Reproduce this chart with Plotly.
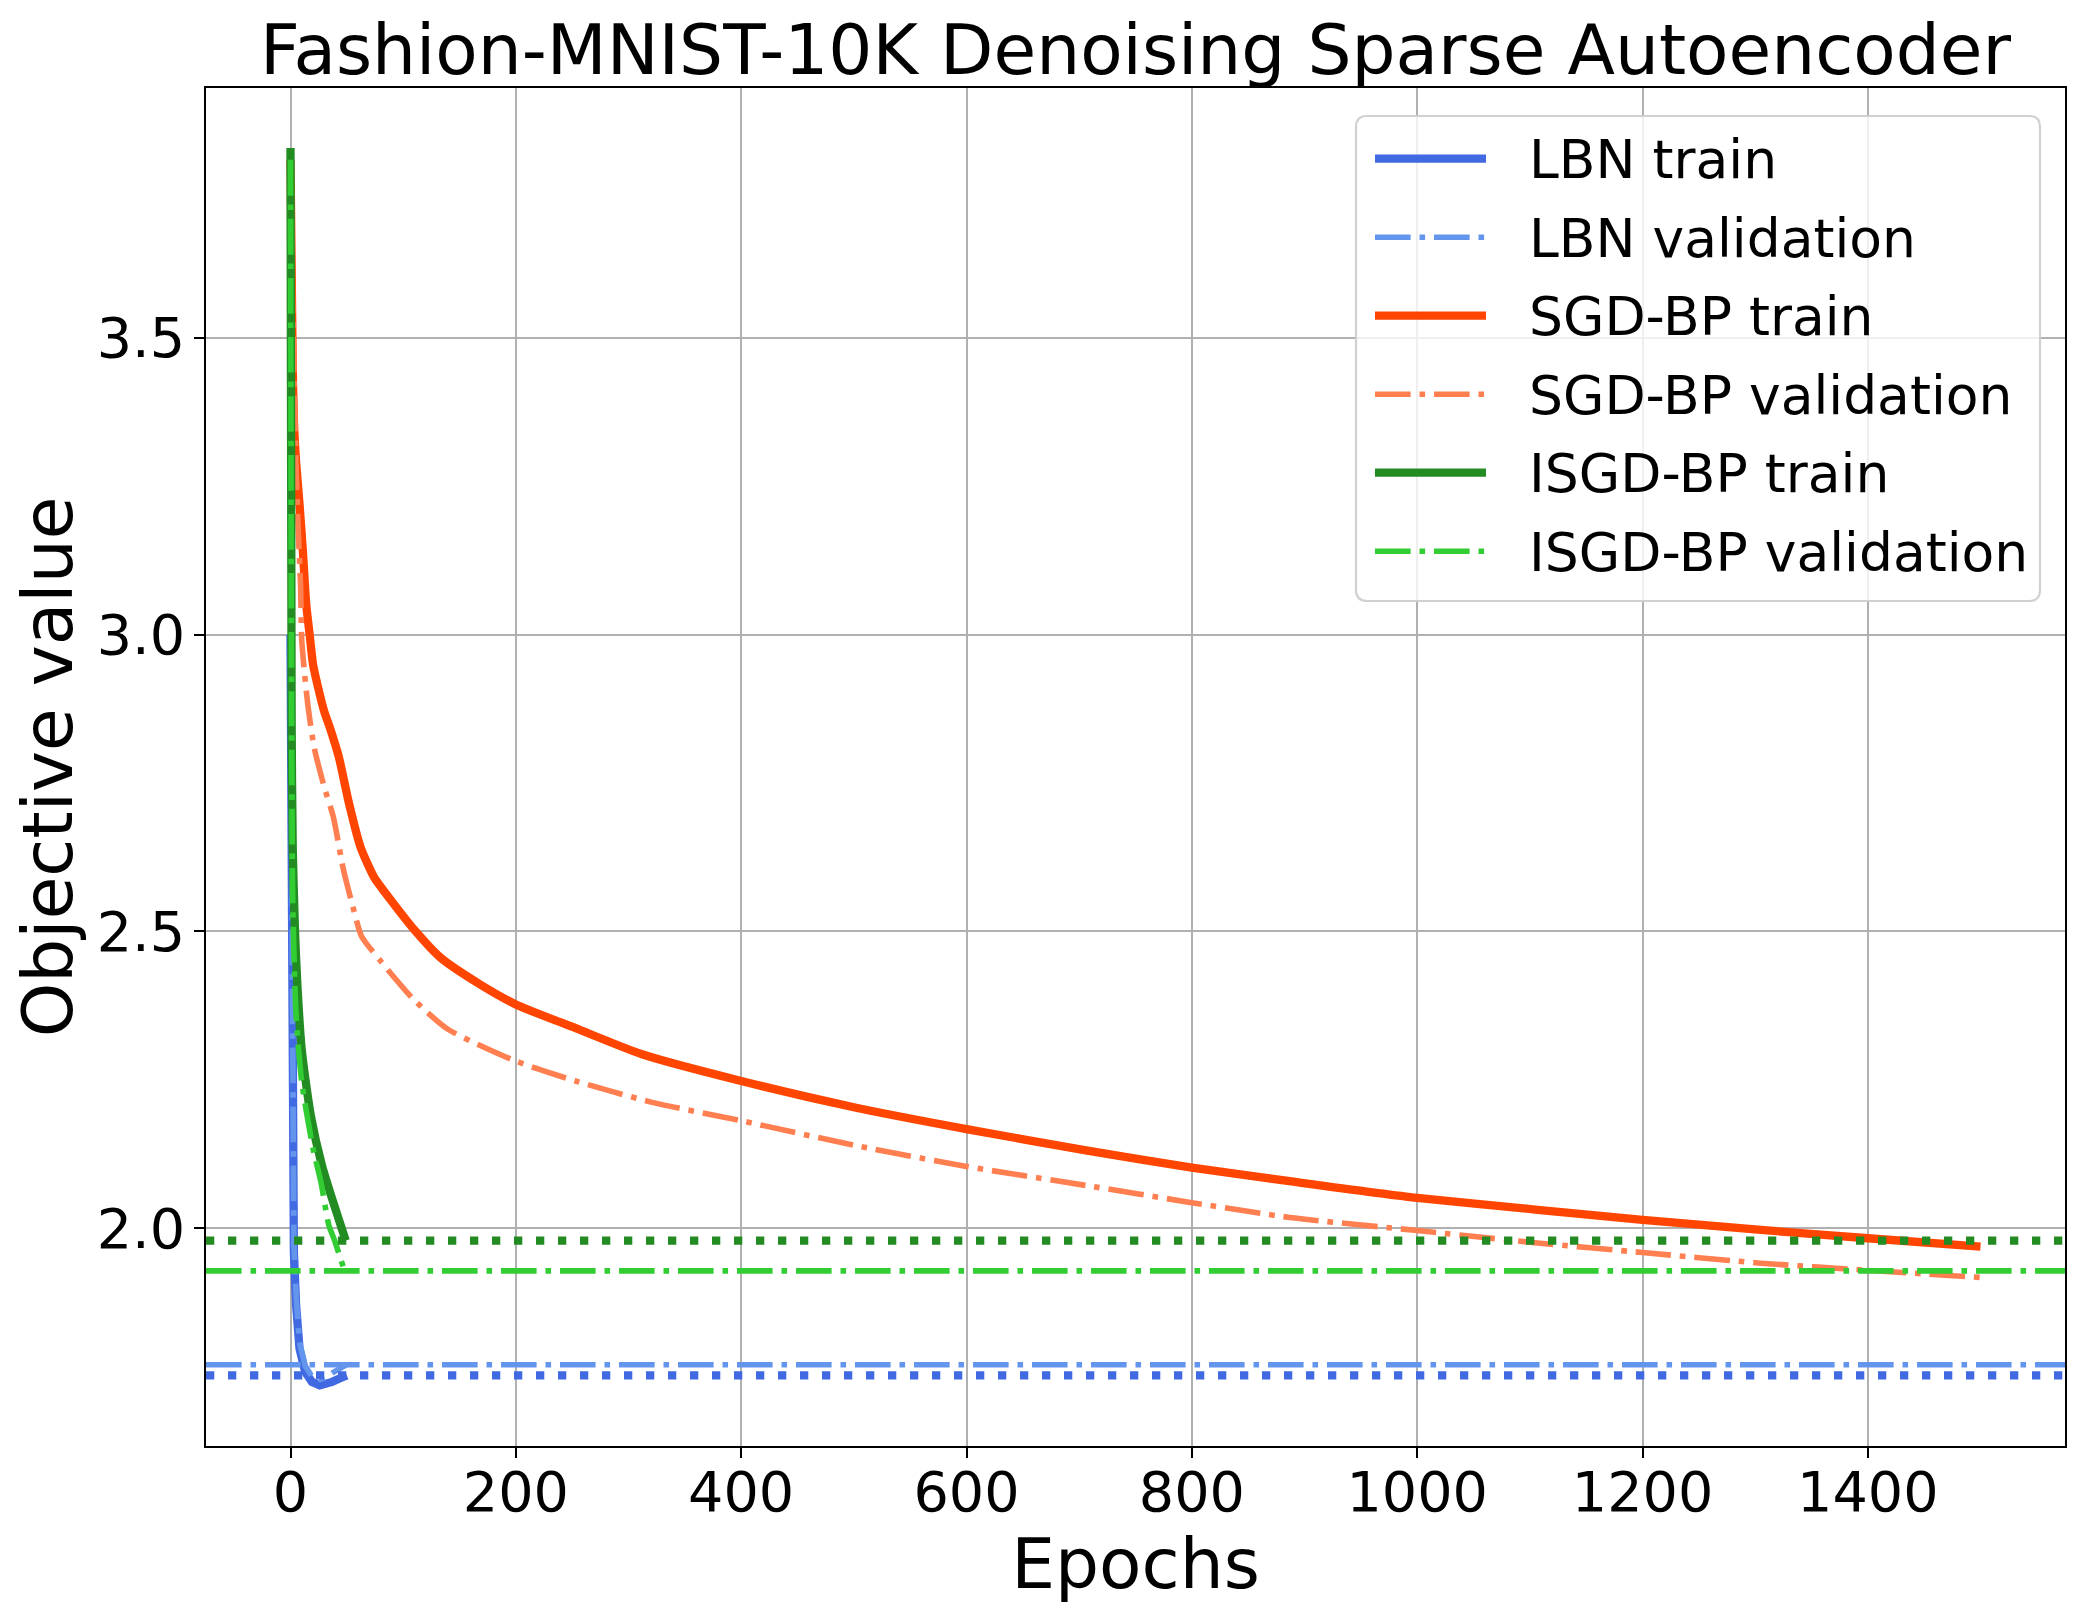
import plotly.graph_objects as go

# ---------------- data ----------------
TITLE = "Fashion-MNIST-10K Denoising Sparse Autoencoder"
X_LABEL = "Epochs"
Y_LABEL = "Objective value"

x_ticks = [0, 200, 400, 600, 800, 1000, 1200, 1400]
y_ticks = [2.0, 2.5, 3.0, 3.5]

series_names = ["LBN train", "LBN validation", "SGD-BP train",
                "SGD-BP validation", "ISGD-BP train", "ISGD-BP validation"]

lbn_train_epochs = [0, 1, 2, 3, 5, 8, 13, 19, 26, 32, 37, 44, 50]
lbn_train_values = [3.00, 2.64, 2.05, 1.96, 1.870, 1.797, 1.758, 1.741, 1.735,
                    1.737, 1.741, 1.747, 1.752]

lbn_val_epochs = [0, 1, 2, 3, 5, 8, 13, 19, 26, 32, 38, 44, 50]
lbn_val_values = [3.00, 2.66, 2.07, 1.975, 1.885, 1.808, 1.768, 1.750, 1.745,
                  1.749, 1.757, 1.764, 1.770]

sgd_train_epochs = [0, 1, 2, 3, 5, 8, 11, 14, 17, 20, 24, 30, 35, 43, 52, 62,
                    74, 91, 112, 133, 168, 200, 253, 312, 400, 502, 600, 706,
                    800, 895, 1000, 1107, 1200, 1305, 1400, 1500]
sgd_train_values = [3.80, 3.62, 3.45, 3.36, 3.29, 3.22, 3.14, 3.05, 3.00, 2.95,
                    2.915, 2.87, 2.843, 2.793, 2.715, 2.643, 2.592, 2.548, 2.498,
                    2.456, 2.411, 2.377, 2.337, 2.293, 2.248, 2.203, 2.167, 2.131,
                    2.102, 2.077, 2.051, 2.031, 2.014, 1.997, 1.983, 1.969]

sgd_val_epochs = [0, 2, 3, 5, 7, 9, 10, 15, 21, 30, 38, 47, 56, 63, 80, 109,
                  139, 198, 253, 321, 400, 502, 600, 706, 800, 887, 1000, 1107,
                  1200, 1305, 1400, 1500]
sgd_val_values = [3.80, 3.55, 3.45, 3.28, 3.17, 3.08, 2.99, 2.888, 2.81, 2.743,
                  2.693, 2.604, 2.537, 2.492, 2.45, 2.386, 2.336, 2.283, 2.248,
                  2.212, 2.181, 2.139, 2.104, 2.072, 2.043, 2.018, 1.996, 1.975,
                  1.959, 1.941, 1.929, 1.917]

isgd_train_epochs = [0, 1, 2, 4, 6, 10, 18, 28, 37, 49]
isgd_train_values = [3.82, 2.85, 2.64, 2.50, 2.413, 2.30, 2.19, 2.105, 2.049, 1.979]

isgd_val_epochs = [0, 1, 2, 5, 10, 20, 27, 34, 39, 48]
isgd_val_values = [3.80, 2.85, 2.55, 2.357, 2.246, 2.134, 2.078, 2.005, 1.980, 1.928]

# ---------------- style ----------------
OFF = 8                      # page offset of the plot div
W, H = 2085 - OFF, 1620 - OFF
ML, MR, MT, MB = 206 - OFF, 20, 88 - OFF, 174
FONT = "DejaVu Sans"
TICK_FS = 55.6
LEG_FS = 53.5
LABEL_FS = 69.4

C_ROYAL = "#4169E1"
C_CORN = "#6495ED"
C_ORED = "#FF4500"
C_CORAL = "#FF7F50"
C_FOREST = "#228B22"
C_LIME = "#32CD32"

TRAIN_W = 8.3
VAL_W = 5.6
DASHDOT = "35.6px,8.9px,5.6px,8.9px"
DOT_W = 8.3
DOTTED = "8.3px,13.7px"

series = [
    (lbn_train_epochs, lbn_train_values, C_ROYAL, TRAIN_W, "solid", "linear"),
    (lbn_val_epochs, lbn_val_values, C_CORN, VAL_W, DASHDOT, "linear"),
    (sgd_train_epochs, sgd_train_values, C_ORED, TRAIN_W, "solid", "spline"),
    (sgd_val_epochs, sgd_val_values, C_CORAL, VAL_W, DASHDOT, "spline"),
    (isgd_train_epochs, isgd_train_values, C_FOREST, TRAIN_W, "solid", "spline"),
    (isgd_val_epochs, isgd_val_values, C_LIME, VAL_W, DASHDOT, "spline"),
]

fig = go.Figure()
for (xs, ys, col, w, dash, shp), name in zip(series, series_names):
    fig.add_trace(go.Scatter(x=xs, y=ys, mode="lines", name=name,
                             line=dict(color=col, width=w, dash=dash,
                                       shape=shp, smoothing=0.6),
                             showlegend=False))

# final-value reference lines
ref_lines = [
    (lbn_train_values[-1], C_ROYAL, DOT_W, DOTTED),
    (lbn_val_values[-1], C_CORN, VAL_W, DASHDOT),
    (isgd_train_values[-1], C_FOREST, DOT_W, DOTTED),
    (isgd_val_values[-1], C_LIME, VAL_W, DASHDOT),
]
for yv, col, w, dash in ref_lines:
    fig.add_hline(y=yv, line=dict(color=col, width=w, dash=dash), layer="above")

# ---------------- manual legend (paper coords) ----------------
PW = W - ML - MR
PH = H - MT - MB


def px_x(px):
    return (px - OFF - ML) / PW


def px_y(py):
    return (H - MB - (py - OFF)) / PH


box_l, box_t, box_r, box_b = 1356, 116, 2040, 601
rad = 11
rx, ry = rad / PW, rad / PH
L, R, T, B = px_x(box_l), px_x(box_r), px_y(box_t), px_y(box_b)
path = (f"M {L + rx},{T} L {R - rx},{T} Q {R},{T} {R},{T - ry} "
        f"L {R},{B + ry} Q {R},{B} {R - rx},{B} L {L + rx},{B} "
        f"Q {L},{B} {L},{B + ry} L {L},{T - ry} Q {L},{T} {L + rx},{T} Z")
fig.add_shape(type="path", path=path, xref="paper", yref="paper",
              fillcolor="rgba(255,255,255,0.8)",
              line=dict(color="rgba(204,204,204,0.9)", width=2.2), layer="above")

row0, row_step = 158.7, 78.5
for i, ((xs, ys, col, w, dash, shp), name) in enumerate(zip(series, series_names)):
    yc = row0 + i * row_step
    fig.add_shape(type="line", xref="paper", yref="paper",
                  x0=px_x(1375), x1=px_x(1486), y0=px_y(yc), y1=px_y(yc),
                  line=dict(color=col, width=w, dash=dash), layer="above")
    fig.add_annotation(x=px_x(1527), y=px_y(yc + 1), xref="paper", yref="paper",
                       text=name, showarrow=False, xanchor="left", yanchor="middle",
                       font=dict(family=FONT, size=LEG_FS, color="black"))

# ---------------- layout ----------------
axis_common = dict(
    showline=True, linecolor="black", linewidth=2.2, mirror=True,
    ticks="outside", ticklen=9.7, tickwidth=2.2, tickcolor="black",
    showgrid=True, gridcolor="#b0b0b0", gridwidth=2.2, zeroline=False,
    tickfont=dict(family=FONT, size=TICK_FS, color="black"),
    automargin=False,
)

fig.update_layout(
    width=W, height=H,
    margin=dict(l=ML, r=MR, t=MT, b=MB),
    paper_bgcolor="white", plot_bgcolor="white",
    font=dict(family=FONT, color="black"),
    title=dict(text=TITLE, x=0.5, xref="paper", xanchor="center",
               y=1 - (50 - OFF) / H, yref="container", yanchor="middle",
               font=dict(family=FONT, size=LABEL_FS, color="black")),
    xaxis=dict(axis_common, range=[-75, 1575], tickvals=x_ticks,
               ticktext=[str(v) for v in x_ticks], ticklabelstandoff=-14,
               title=dict(text=X_LABEL, standoff=10,
                          font=dict(family=FONT, size=LABEL_FS, color="black"))),
    yaxis=dict(axis_common, range=[1.633, 3.921], tickvals=y_ticks,
               ticktext=[f"{v:.1f}" for v in y_ticks], ticklabelstandoff=-2,
               title=dict(text=Y_LABEL, standoff=8,
                          font=dict(family=FONT, size=LABEL_FS, color="black"))),
    showlegend=False,
)

fig.write_html("out.html")
